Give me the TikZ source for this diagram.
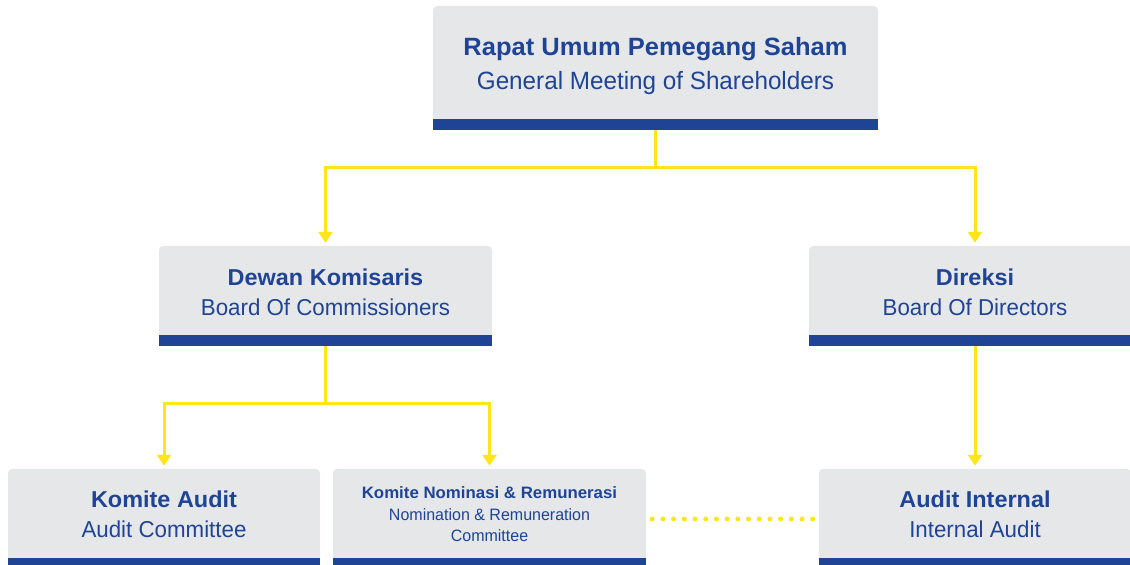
\documentclass[tikz,border=0pt]{standalone}
\usepackage{fontspec}
\setmainfont{Liberation Sans}[FakeStretch=0.97, BoldFeatures={FakeStretch=1.02}]
\usetikzlibrary{arrows.meta,positioning}
\definecolor{boxgray}{HTML}{E6E7E9}
\definecolor{orgblue}{HTML}{1F4496}
\definecolor{linkyellow}{HTML}{FFE51A}
\tikzset{
  unit/.style={fill=boxgray, rounded corners=4pt, text=orgblue, align=center, inner sep=0pt, minimum height=100pt},
  toptxt/.style={font=\fontsize{25}{34}\selectfont},
  midtxt/.style={font=\fontsize{23}{30}\selectfont},
  smalltxt/.style={font=\fontsize{16.5}{21.5}\selectfont},
  link/.style={draw=linkyellow, line width=3pt},
  dots/.style={draw=linkyellow, line width=5pt, line cap=round, dash pattern=on 0pt off 10.7pt, shorten <=6pt, shorten >=6pt}
}
\begin{document}
\begin{tikzpicture}[x=1pt,y=1pt,>={Triangle[width=14pt,length=11pt]}]
\clip (0,0) rectangle (1130,565);
% Kotak
\node[unit, toptxt, minimum width=445pt, minimum height=124pt, text depth=10pt] (rups) at (655.5,497) {\textbf{Rapat Umum Pemegang Saham}\\General Meeting of Shareholders};
\node[unit, midtxt, minimum width=333pt, text depth=8pt] (dk) at (325.5,269) {\textbf{Dewan Komisaris}\\Board Of Commissioners};
\node[unit, midtxt, minimum width=332pt, text depth=8pt] (dir) at (975,269) {\textbf{Direksi}\\Board Of Directors};
\node[unit, midtxt, minimum width=312pt, text depth=10pt] (ka) at (164,46) {\textbf{Komite Audit}\\Audit Committee};
\node[unit, smalltxt, minimum width=313pt, text depth=9pt] (knr) at (489.5,46) {\textbf{Komite Nominasi \& Remunerasi}\\Nomination \& Remuneration\\Committee};
\node[unit, midtxt, minimum width=312pt, text depth=10pt] (ai) at (975,46) {\textbf{Audit Internal}\\Internal Audit};
\foreach \n in {rups,dk,dir,ka,knr,ai}
  \fill[orgblue] ([yshift=11pt]\n.south west) rectangle (\n.south east);
% Garis
\coordinate (j1) at ([yshift=-37pt]rups.south);
\coordinate (j2) at ([yshift=-57pt]dk.south);
\draw[link] (rups.south) -- (j1);
\draw[link,->,shorten >=3pt] (j1) -| (dk.north);
\draw[link,->,shorten >=3pt] (j1) -| (dir.north);
\draw[link] (dk.south) -- (j2);
\draw[link,->,shorten >=3pt] (j2) -| (ka.north);
\draw[link,->,shorten >=3pt] (j2) -| (knr.north);
\draw[link,->,shorten >=3pt] (dir.south) -- (ai.north);
\draw[dots] (knr) -- (ai);
\end{tikzpicture}
\end{document}
